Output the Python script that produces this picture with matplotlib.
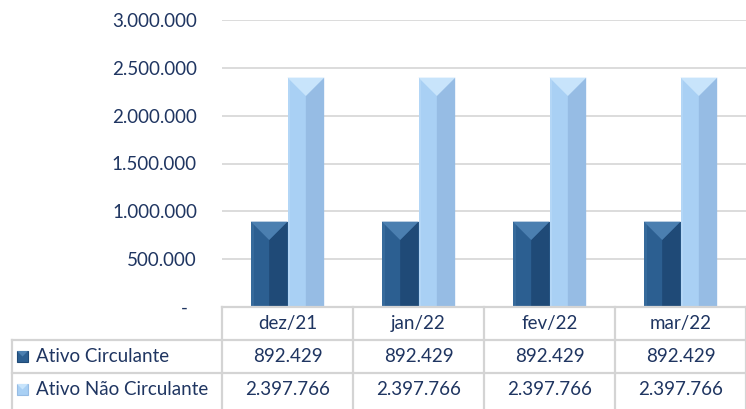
import numpy as np
import matplotlib.pyplot as plt
from matplotlib.patches import Polygon, Rectangle
from matplotlib.lines import Line2D

months = ['dez/21', 'jan/22', 'fev/22', 'mar/22']
ativo_circ = [892429, 892429, 892429, 892429]
ativo_nao_circ = [2397766, 2397766, 2397766, 2397766]
series_names = ['Ativo Circulante', 'Ativo Não Circulante']
yticks = [0, 500000, 1000000, 1500000, 2000000, 2500000, 3000000]

plt.rcParams['font.family'] = ['Lato', 'DejaVu Sans']
txt = '#1f3561'
grid_c = '#d9d9d9'
line_c = '#d4d4d4'

# colours: (main/left, right facet, top facet)
dark = ('#2c5f91', '#1f4a77', '#4b7fb0')
light = ('#a9d0f4', '#96bce4', '#c8e4fb')

W, H = 746, 409
fig = plt.figure(figsize=(W / 100, H / 100), dpi=100)
x0, x1 = 222, 746
y_zero, y_top = 307, 20
ax = fig.add_axes([x0 / W, 1 - y_zero / H, (x1 - x0) / W, (y_zero - y_top) / H])

x = np.arange(len(months))
bw = 0.28
ax.set_xlim(-0.5, len(months) - 0.5)
ax.set_ylim(0, 3000000)
ax.set_yticks(yticks)
ax.set_yticklabels(['-  '] + [f'{v:,}'.replace(',', '.') for v in yticks[1:]],
                   fontsize=13.5, color=txt)
ax.tick_params(axis='y', length=0, pad=18)
ax.set_xticks([])
ax.grid(axis='y', color=grid_c, linewidth=1.3)
ax.set_axisbelow(True)
for s in ax.spines.values():
    s.set_visible(False)

px_per_x = (x1 - x0) / len(months)
px_per_y = (y_zero - y_top) / 3000000


def bevel_bars(pos, vals, cols):
    bars = ax.bar(pos, vals, width=bw, align='edge', color=cols[0], linewidth=0, zorder=2)
    for b in bars:
        l, w, h = b.get_x(), b.get_width(), b.get_height()
        c = l + w / 2
        d = (w / 2) * px_per_x / px_per_y
        ax.add_patch(Polygon([(c, h - d), (l + w, h), (l + w, 0), (c, 0)],
                             closed=True, color=cols[1], linewidth=0, zorder=3))
        ax.add_patch(Polygon([(l, h), (l + w, h), (c, h - d)],
                             closed=True, color=cols[2], linewidth=0, zorder=4))
        ax.add_patch(Rectangle((l, 0), w * 0.08, h - d * 0.08, color=cols[2], alpha=0.35,
                               linewidth=0, zorder=4))


bevel_bars(x - bw, ativo_circ, dark)
bevel_bars(x, ativo_nao_circ, light)

# data table
col_edges = [x0 + i * px_per_x for i in range(len(months) + 1)]
rows_y = [307, 340, 373, 406]
label_x = 12


def fl(xa, xb, ya, yb):
    fig.add_artist(Line2D([xa / W, xb / W], [1 - ya / H, 1 - yb / H],
                          color=line_c, linewidth=1.6, transform=fig.transFigure))


fl(x0, x1, rows_y[0], rows_y[0])
fl(label_x, x1, rows_y[1], rows_y[1])
fl(label_x, x1, rows_y[2], rows_y[2])
for ce in col_edges:
    fl(ce, ce, rows_y[0], H)
fl(label_x, label_x, rows_y[1], H)

for i, m in enumerate(months):
    cx = (col_edges[i] + col_edges[i + 1]) / 2
    fig.text(cx / W, 1 - (rows_y[0] + rows_y[1]) / 2 / H, m, ha='center', va='center',
             fontsize=13.5, color=txt)
    fig.text(cx / W, 1 - (rows_y[1] + rows_y[2]) / 2 / H,
             f'{ativo_circ[i]:,}'.replace(',', '.'), ha='center', va='center',
             fontsize=13.5, color=txt)
    fig.text(cx / W, 1 - (rows_y[2] + rows_y[3]) / 2 / H,
             f'{ativo_nao_circ[i]:,}'.replace(',', '.'), ha='center', va='center',
             fontsize=13.5, color=txt)

for r, (name, cols) in enumerate(zip(series_names, [dark, light])):
    yc = (rows_y[r + 1] + rows_y[r + 2]) / 2
    sq = 11
    fig.add_artist(Rectangle((17 / W, 1 - (yc + sq / 2) / H), sq / W, sq / H,
                             facecolor=cols[0], edgecolor=cols[1], linewidth=0.8,
                             transform=fig.transFigure))
    fig.add_artist(Polygon([(17 / W, 1 - (yc - sq / 2) / H), ((17 + sq) / W, 1 - (yc - sq / 2) / H),
                            ((17 + sq / 2) / W, 1 - yc / H)], closed=True,
                           facecolor=cols[2], linewidth=0, transform=fig.transFigure))
    fig.text(36 / W, 1 - yc / H, name, ha='left', va='center', fontsize=13.5, color=txt)

fig.savefig('out.png', dpi=100)
